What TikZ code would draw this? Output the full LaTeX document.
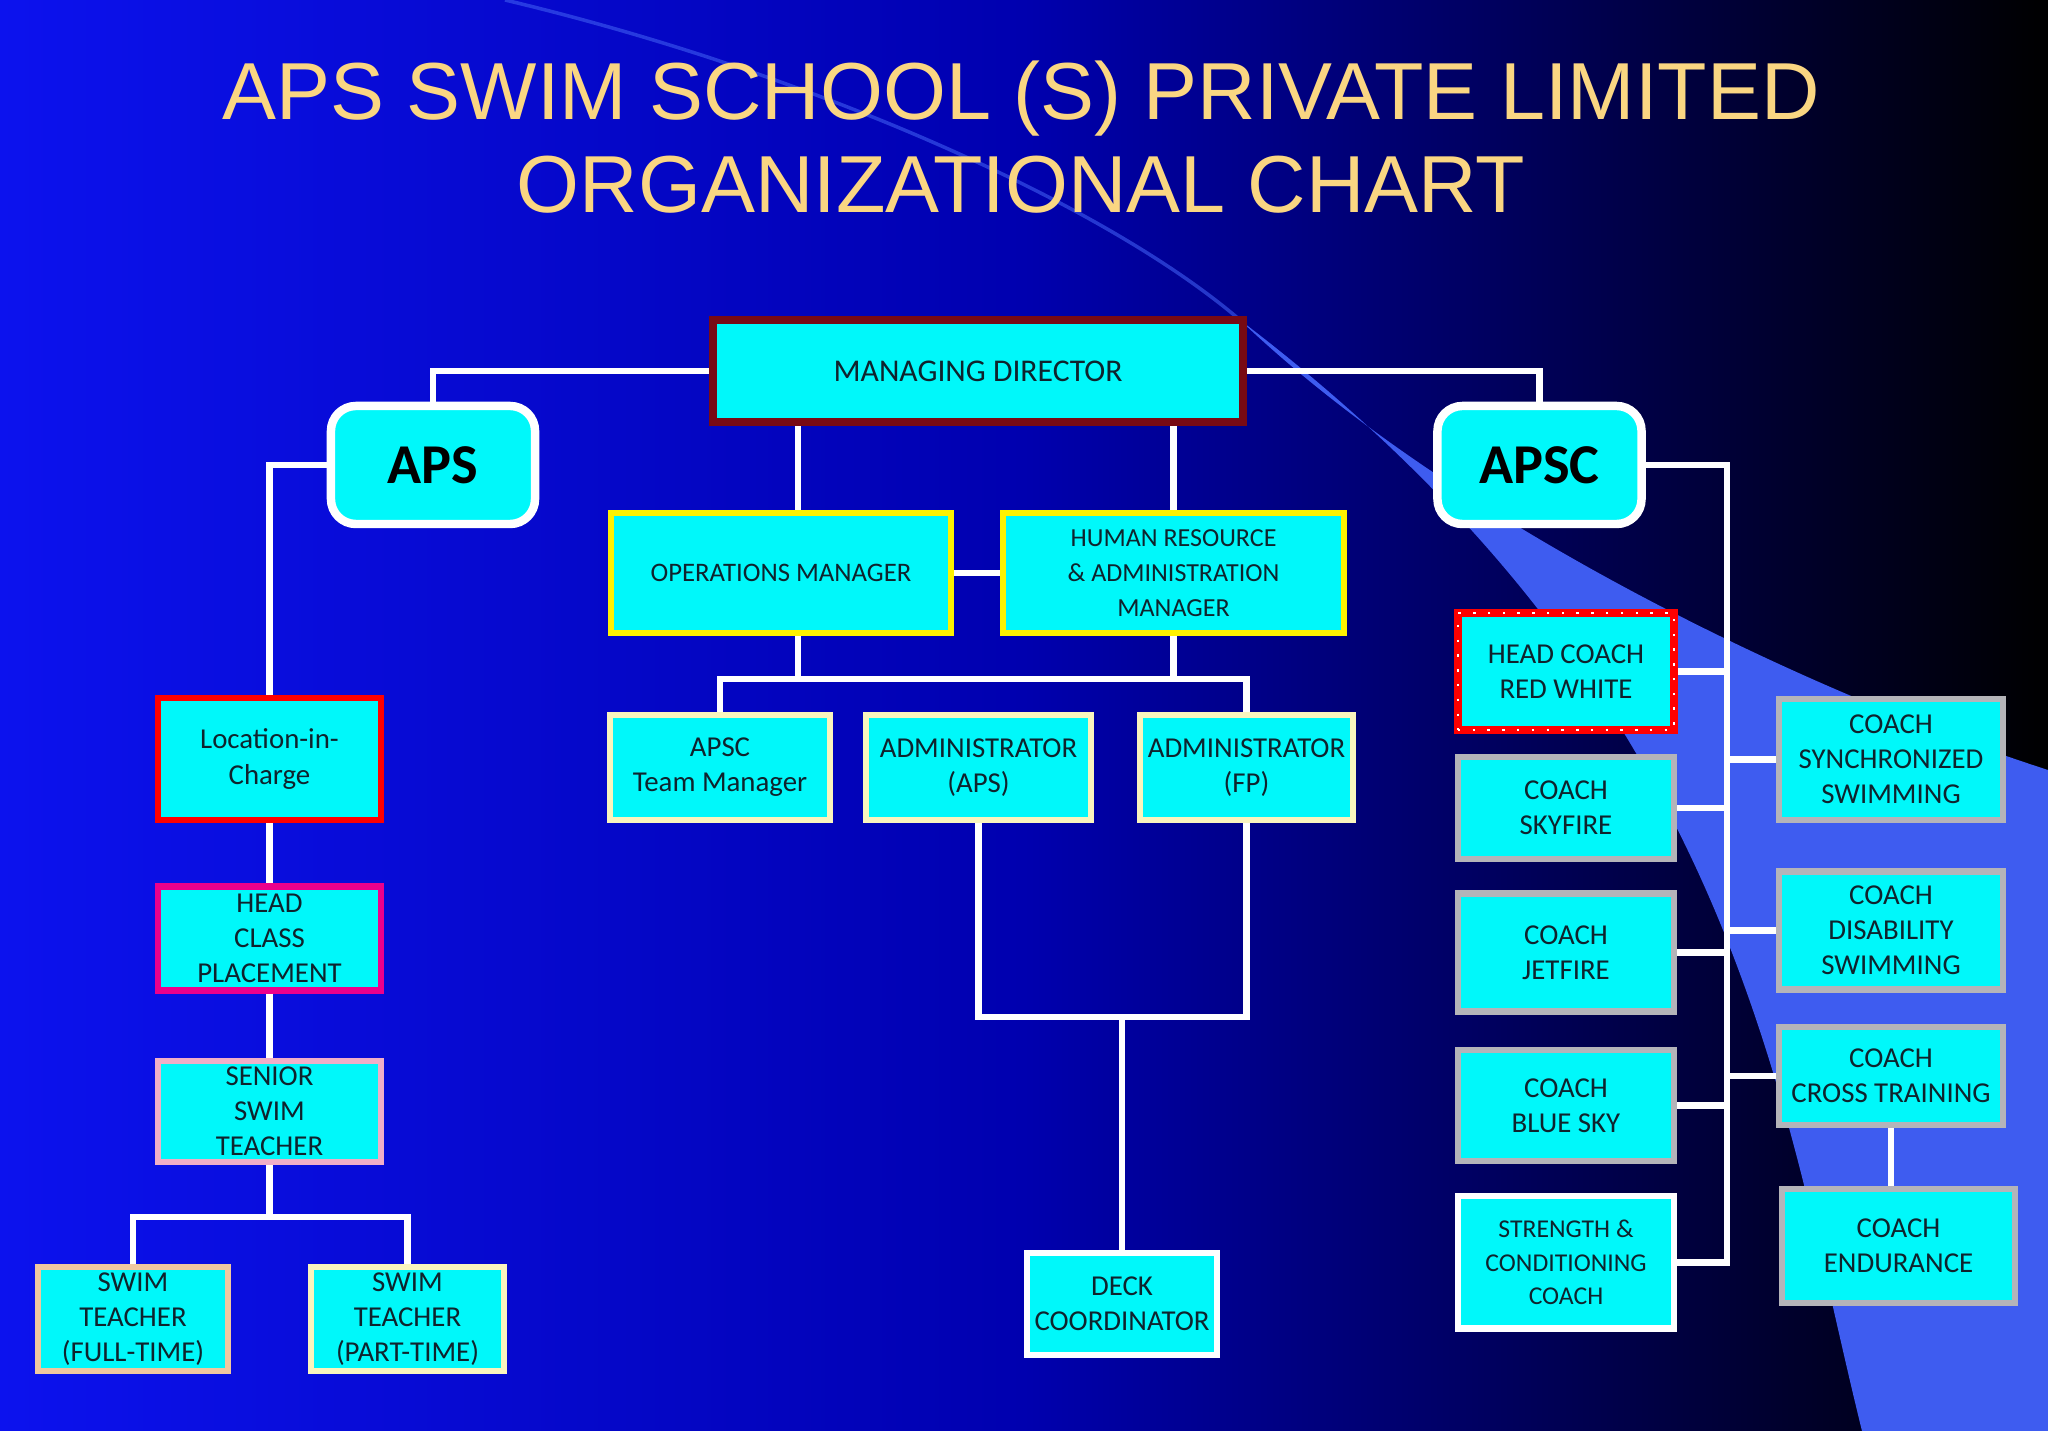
\documentclass[tikz,border=0pt]{standalone}
\usepackage{fontspec}
\setmainfont{Carlito}
\newfontfamily\titlefont{Liberation Sans}
\usetikzlibrary{positioning,calc,backgrounds}
\definecolor{boxfill}{RGB}{0,248,250}
\definecolor{boxtext}{RGB}{15,35,45}
\definecolor{mdred}{RGB}{120,10,20}
\definecolor{cream}{RGB}{250,245,190}
\definecolor{peach}{RGB}{240,200,160}
\definecolor{rosepink}{RGB}{240,175,200}
\definecolor{coachgray}{RGB}{180,180,185}
\definecolor{titlegold}{RGB}{250,214,130}
\definecolor{slideblue}{RGB}{12,18,238}
\definecolor{slidenavy}{RGB}{0,0,175}
\definecolor{swoosh}{RGB}{62,92,240}
\tikzset{rolebox/.style={draw, fill=boxfill, text=boxtext, align=center, inner sep=0.5pt, line width=1.8pt, font=\fontsize{8.2}{10}\selectfont}}
\tikzset{unit/.style={draw=white, fill=boxfill, text=black, rounded corners=0.25cm, line width=2.4pt, minimum width=2.04cm, minimum height=1.18cm, font=\fontsize{16}{18}\selectfont\bfseries}}
\tikzset{link/.style={draw=white, line width=1.8pt}}

\begin{document}
\begin{tikzpicture}[x=0.01cm, y=-0.01cm]
\useasboundingbox (0,0) rectangle (2048,1431);
\shade[left color=slideblue, right color=black, middle color=slidenavy] (0,0) rectangle (2048,1431);
\draw[swoosh, line width=1pt, opacity=0.6] (505,0) .. controls (800,70) and (1100,200) .. (1240,320);
\fill[swoosh] (1240,320) .. controls (1450,520) and (1800,690) .. (2048,770) -- (2048,1431) -- (1862,1431) .. controls (1780,1100) and (1740,700) .. (1240,320) -- cycle;

\node[font=\titlefont\fontsize{23}{26.5}\selectfont, text=titlegold, align=center] (title) at (1021,137) {APS SWIM SCHOOL (S) PRIVATE LIMITED\\ORGANIZATIONAL CHART};

% top of the chart
\node[rolebox, draw=mdred, line width=2.4pt, minimum width=5.3cm, minimum height=1.02cm, font=\fontsize{9}{11}\selectfont] (md) at (978,371) {MANAGING DIRECTOR};
\node[unit] (aps) at (433,465) {APS};
\node[unit] (apsc) at (1539.5,465) {APSC};
\node[rolebox, draw=yellow, minimum width=3.4cm, minimum height=1.2cm, font=\fontsize{7.6}{10}\selectfont] (ops) at (781,573) {OPERATIONS MANAGER};
\node[rolebox, draw=yellow, minimum width=3.41cm, minimum height=1.2cm, font=\fontsize{7.4}{10}\selectfont] (hr) at (1173.5,573) {HUMAN RESOURCE\\\& ADMINISTRATION\\MANAGER};
\node[rolebox, draw=cream, minimum width=2.2cm, minimum height=1.05cm] (team) at (720,767.5) {APSC\\Team Manager};
\node[rolebox, draw=cream, minimum width=2.25cm, minimum height=1.05cm] (adma) at (978.5,767.5) {ADMINISTRATOR\\(APS)};
\node[rolebox, draw=cream, minimum width=2.13cm, minimum height=1.05cm] (admf) at (1246.5,767.5) {ADMINISTRATOR\\(FP)};
\node[rolebox, draw=white, minimum width=1.9cm, minimum height=1.02cm] (deck) at (1122,1304) {DECK\\COORDINATOR};

% APS side
\node[rolebox, draw=red, minimum width=2.23cm, minimum height=1.22cm] (loc) at (269.5,759) {Location-in-\\Charge};
\node[rolebox, draw=magenta, minimum width=2.23cm, minimum height=1.04cm, below=0.6cm of loc] (hcp) {HEAD\\CLASS\\PLACEMENT};
\node[rolebox, draw=rosepink, minimum width=2.23cm, minimum height=1.01cm, below=0.64cm of hcp] (senior) {SENIOR\\SWIM\\TEACHER};
\node[rolebox, draw=peach, minimum width=1.9cm, minimum height=1.04cm] (fulltime) at (133,1319) {SWIM\\TEACHER\\(FULL-TIME)};
\node[rolebox, draw=cream, minimum width=1.93cm, minimum height=1.04cm] (parttime) at (407.5,1319) {SWIM\\TEACHER\\(PART-TIME)};

% APSC side
\node[rolebox, draw=red, line width=2.2pt, minimum width=2.16cm, minimum height=1.17cm, postaction={draw=white, line width=0.7pt, dash pattern=on 0.7pt off 3.5pt}] (hc) at (1566,671.5) {HEAD COACH\\RED WHITE};
\node[rolebox, draw=coachgray, minimum width=2.16cm, minimum height=1.02cm, below=0.2cm of hc] (sky) {COACH\\SKYFIRE};
\node[rolebox, draw=coachgray, minimum width=2.16cm, minimum height=1.18cm, below=0.28cm of sky] (jet) {COACH\\JETFIRE};
\node[rolebox, draw=coachgray, minimum width=2.16cm, minimum height=1.11cm, below=0.32cm of jet] (bluesky) {COACH\\BLUE SKY};
\node[rolebox, draw=white, minimum width=2.16cm, minimum height=1.32cm, below=0.29cm of bluesky, font=\fontsize{7.3}{9.6}\selectfont] (strength) {STRENGTH \&\\CONDITIONING\\COACH};
\node[rolebox, draw=coachgray, minimum width=2.24cm, minimum height=1.21cm] (synchro) at (1891,759.5) {COACH\\SYNCHRONIZED\\SWIMMING};
\node[rolebox, draw=coachgray, minimum width=2.24cm, minimum height=1.18cm, below=0.45cm of synchro] (disab) {COACH\\DISABILITY\\SWIMMING};
\node[rolebox, draw=coachgray, minimum width=2.24cm, minimum height=0.98cm, below=0.31cm of disab] (cross) {COACH\\CROSS TRAINING};
\node[rolebox, draw=coachgray, minimum width=2.33cm, minimum height=1.14cm] (endu) at (1898.5,1246) {COACH\\ENDURANCE};

\coordinate (bar) at (0,679);
\coordinate (loop) at (0,1017);
\coordinate (fork) at (0,1217);
\coordinate (spine) at (1727,0);

\draw[link] (md.west) -| (aps.north);
\draw[link] (md.east) -| (apsc.north);
\draw[link] (aps.west) -| (loc.north);
\draw[link] ($(ops.north)+(17,0)$) -- ($(ops.north |- md.south)+(17,0)$);
\draw[link] (hr.north) -- (hr.north |- md.south);
\draw[link] (ops.east) -- (hr.west);
\draw[link] ($(ops.south)+(17,0)$) -- ($(ops.south |- bar)+(17,0)$);
\draw[link] (hr.south) -- (hr.south |- bar);
\draw[link] (team.north) -- (team.north |- bar) -- (admf.north |- bar) -- (admf.north);
\draw[link] (adma.south) -- (adma.south |- loop) -- (admf.south |- loop) -- (admf.south);
\draw[link] (deck.north) -- (deck.north |- loop);

\draw[link] (loc.south) -- (hcp.north);
\draw[link] (hcp.south) -- (senior.north);
\draw[link] (senior.south) -- (senior.south |- fork);
\draw[link] (fulltime.north) -- (fulltime.north |- fork) -- (parttime.north |- fork) -- (parttime.north);

\draw[link] (apsc.east) -| (spine |- strength.east) -- (strength.east);
\foreach \c in {hc,sky,jet,bluesky}
  \draw[link] (\c.east) -- (\c.east -| spine);
\foreach \c in {synchro,disab,cross}
  \draw[link] (\c.west) -- (\c.west -| spine);
\draw[link] (cross.south) -- (cross.south |- endu.north);
\end{tikzpicture}
\end{document}
